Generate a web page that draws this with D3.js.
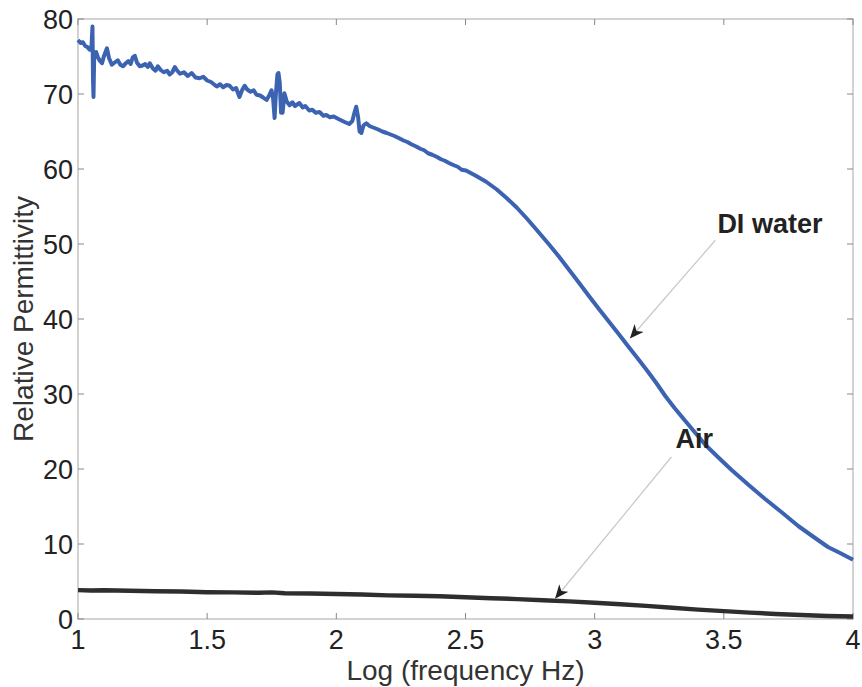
<!DOCTYPE html>
<html>
<head>
<meta charset="utf-8">
<script src="https://cdn.jsdelivr.net/npm/d3@7/dist/d3.min.js"></script>
<style>
  body { margin: 0; background: #fff; }
  svg { display: block; font-family: "Liberation Sans", Arial, Helvetica, sans-serif; }
</style>
</head>
<body>
<div class="chart"></div>
<script>
// log10 frequency and permittivity of DI water
const waterX = [1.000, 1.010, 1.019, 1.028, 1.035, 1.046, 1.052, 1.056, 1.058, 1.060, 1.063, 1.070, 1.077, 1.085, 1.093, 1.100, 1.112, 1.120, 1.131, 1.142, 1.154, 1.164, 1.174, 1.185, 1.195, 1.204, 1.212, 1.220, 1.228, 1.239, 1.250, 1.260, 1.270, 1.278, 1.290, 1.300, 1.309, 1.320, 1.332, 1.345, 1.355, 1.365, 1.375, 1.382, 1.395, 1.410, 1.425, 1.440, 1.455, 1.471, 1.485, 1.500, 1.515, 1.537, 1.550, 1.562, 1.575, 1.587, 1.600, 1.612, 1.625, 1.635, 1.645, 1.655, 1.668, 1.680, 1.691, 1.705, 1.718, 1.730, 1.740, 1.749, 1.755, 1.761, 1.766, 1.772, 1.776, 1.781, 1.786, 1.792, 1.799, 1.808, 1.819, 1.830, 1.840, 1.857, 1.870, 1.880, 1.895, 1.907, 1.920, 1.935, 1.950, 1.961, 1.975, 1.990, 2.012, 2.030, 2.050, 2.062, 2.070, 2.077, 2.084, 2.090, 2.097, 2.105, 2.116, 2.130, 2.145, 2.160, 2.178, 2.195, 2.210, 2.225, 2.243, 2.260, 2.275, 2.290, 2.309, 2.325, 2.340, 2.355, 2.371, 2.390, 2.405, 2.420, 2.436, 2.455, 2.470, 2.485, 2.502, 2.540, 2.580, 2.620, 2.660, 2.700, 2.740, 2.780, 2.822, 2.860, 2.900, 2.940, 2.977, 3.015, 3.054, 3.093, 3.131, 3.170, 3.208, 3.240, 3.274, 3.310, 3.351, 3.390, 3.429, 3.480, 3.529, 3.595, 3.660, 3.725, 3.788, 3.845, 3.903, 3.950, 4.000]
const waterY = [77.2, 76.8, 76.9, 76.4, 76.3, 75.9, 76.2, 79.0, 72.0, 69.6, 75.5, 75.6, 74.9, 74.4, 74.1, 75.0, 76.1, 74.8, 73.9, 74.2, 74.5, 73.9, 73.7, 74.1, 74.4, 74.0, 74.9, 75.1, 74.2, 73.7, 73.8, 74.0, 73.6, 74.1, 73.4, 73.1, 73.7, 73.2, 72.9, 73.1, 72.6, 72.9, 73.6, 73.2, 72.7, 72.9, 72.4, 72.8, 72.2, 72.1, 72.3, 71.8, 71.6, 71.0, 71.3, 70.9, 71.2, 71.1, 70.6, 70.8, 69.6, 70.5, 71.1, 70.6, 70.3, 70.5, 69.9, 69.8, 69.5, 69.2, 69.8, 70.5, 69.5, 66.8, 70.0, 72.6, 72.8, 71.5, 67.5, 67.5, 70.1, 69.0, 68.5, 68.9, 68.4, 68.8, 68.2, 68.4, 67.8, 67.9, 67.5, 67.6, 67.1, 67.2, 66.9, 67.0, 66.6, 66.3, 66.0, 66.4, 67.5, 68.3, 67.0, 65.0, 64.8, 65.8, 66.1, 65.7, 65.5, 65.3, 65.0, 64.8, 64.6, 64.4, 64.1, 63.8, 63.6, 63.3, 63.0, 62.7, 62.5, 62.1, 61.9, 61.6, 61.3, 61.1, 60.8, 60.5, 60.3, 59.9, 59.8, 59.1, 58.3, 57.3, 56.1, 54.8, 53.3, 51.7, 50.0, 48.4, 46.6, 44.8, 43.1, 41.4, 39.7, 38.0, 36.3, 34.6, 32.9, 31.4, 29.7, 28.1, 26.4, 24.8, 23.2, 21.5, 19.9, 17.9, 16.0, 14.2, 12.4, 11.0, 9.6, 8.8, 7.9]

// air
const airX = [1.00, 1.05, 1.10, 1.20, 1.30, 1.40, 1.50, 1.60, 1.70, 1.75, 1.80, 1.90, 2.00, 2.10, 2.20, 2.30, 2.40, 2.50, 2.60, 2.70, 2.80, 2.90, 3.00, 3.10, 3.20, 3.30, 3.40, 3.50, 3.60, 3.70, 3.80, 3.90, 4.00]
const airY = [3.85, 3.80, 3.82, 3.76, 3.70, 3.66, 3.58, 3.55, 3.50, 3.55, 3.42, 3.40, 3.32, 3.26, 3.15, 3.10, 3.02, 2.90, 2.78, 2.65, 2.50, 2.35, 2.18, 1.98, 1.75, 1.50, 1.25, 1.05, 0.85, 0.68, 0.52, 0.40, 0.32]

const xTicks = [1, 1.5, 2, 2.5, 3, 3.5, 4]
const yTicks = [0, 10, 20, 30, 40, 50, 60, 70, 80]

// text arrows: label position, tail and head in data units
const notes = [
  { text: 'DI water', tx: 3.475, ty: 51.5, x1: 3.467, y1: 50.5, x2: 3.139, y2: 37.5 },
  { text: 'Air', tx: 3.313, ty: 22.8, x1: 3.297, y1: 21.6, x2: 2.849, y2: 2.8 }
]

const width = 862, height = 687
const margin = { top: 19, right: 9, bottom: 68, left: 78 }

const svg = d3.select('.chart').append('svg')
  .attr('width', width)
  .attr('height', height)

const x = d3.scaleLinear().domain([1, 4]).range([margin.left, width - margin.right])
const y = d3.scaleLinear().domain([0, 80]).range([height - margin.bottom, margin.top])

// arrow head
svg.append('defs').append('marker')
  .attr('id', 'head')
  .attr('viewBox', '0 0 14 12')
  .attr('refX', 13)
  .attr('refY', 6)
  .attr('markerWidth', 14)
  .attr('markerHeight', 12)
  .attr('markerUnits', 'userSpaceOnUse')
  .attr('orient', 'auto')
  .append('path')
  .attr('d', 'M0,0 L14,6 L0,12 L4,6 Z')
  .attr('fill', '#222')

// box
svg.append('rect')
  .attr('x', x(1)).attr('y', y(80))
  .attr('width', x(4) - x(1)).attr('height', y(0) - y(80))
  .attr('fill', 'none')
  .attr('stroke', '#c4c4c4')
  .attr('stroke-width', 1.5)

// inward ticks on all four sides
const tickLen = 6
const tg = svg.append('g').attr('stroke', '#888').attr('stroke-width', 1)
tg.selectAll('.xb').data(xTicks).join('line')
  .attr('x1', d => x(d)).attr('x2', d => x(d))
  .attr('y1', y(0)).attr('y2', y(0) - tickLen)
tg.selectAll('.xt').data(xTicks).join('line')
  .attr('x1', d => x(d)).attr('x2', d => x(d))
  .attr('y1', y(80)).attr('y2', y(80) + tickLen)
tg.selectAll('.yl').data(yTicks).join('line')
  .attr('y1', d => y(d)).attr('y2', d => y(d))
  .attr('x1', x(1)).attr('x2', x(1) + tickLen)
tg.selectAll('.yr').data(yTicks).join('line')
  .attr('y1', d => y(d)).attr('y2', d => y(d))
  .attr('x1', x(4)).attr('x2', x(4) - tickLen)

// tick labels
svg.append('g').selectAll('text').data(xTicks).join('text')
  .attr('x', d => x(d))
  .attr('y', y(0) + 30)
  .attr('text-anchor', 'middle')
  .attr('font-size', 27)
  .attr('fill', '#222')
  .text(d => d)

svg.append('g').selectAll('text').data(yTicks).join('text')
  .attr('x', x(1) - 5)
  .attr('y', d => y(d))
  .attr('dy', '0.36em')
  .attr('text-anchor', 'end')
  .attr('font-size', 27)
  .attr('fill', '#222')
  .text(d => d)

// axis titles
svg.append('text')
  .attr('x', (x(1) + x(4)) / 2)
  .attr('y', 680)
  .attr('text-anchor', 'middle')
  .attr('font-size', 28)
  .attr('fill', '#333')
  .text('Log (frequency Hz)')

svg.append('text')
  .attr('transform', `translate(33,${(y(0) + y(80)) / 2}) rotate(-90)`)
  .attr('text-anchor', 'middle')
  .attr('font-size', 28)
  .attr('fill', '#333')
  .text('Relative Permittivity')

// curves
const line = d3.line().x(d => x(d[0])).y(d => y(d[1]))

svg.append('path')
  .datum(airX.map((v, i) => [v, airY[i]]))
  .attr('d', line)
  .attr('fill', 'none')
  .attr('stroke', '#2e2e2e')
  .attr('stroke-width', 4.5)
  .attr('stroke-linejoin', 'round')

svg.append('path')
  .datum(waterX.map((v, i) => [v, waterY[i]]))
  .attr('d', line)
  .attr('fill', 'none')
  .attr('stroke', '#3c63b2')
  .attr('stroke-width', 4)
  .attr('stroke-linejoin', 'round')

// annotations
const ng = svg.append('g')
ng.selectAll('line').data(notes).join('line')
  .attr('x1', d => x(d.x1)).attr('y1', d => y(d.y1))
  .attr('x2', d => x(d.x2)).attr('y2', d => y(d.y2))
  .attr('stroke', '#c8c8c8')
  .attr('stroke-width', 1.2)
  .attr('marker-end', 'url(#head)')
ng.selectAll('text').data(notes).join('text')
  .attr('x', d => x(d.tx)).attr('y', d => y(d.ty))
  .attr('font-size', 27)
  .attr('font-weight', 'bold')
  .attr('fill', '#222')
  .text(d => d.text)
</script>
</body>
</html>
